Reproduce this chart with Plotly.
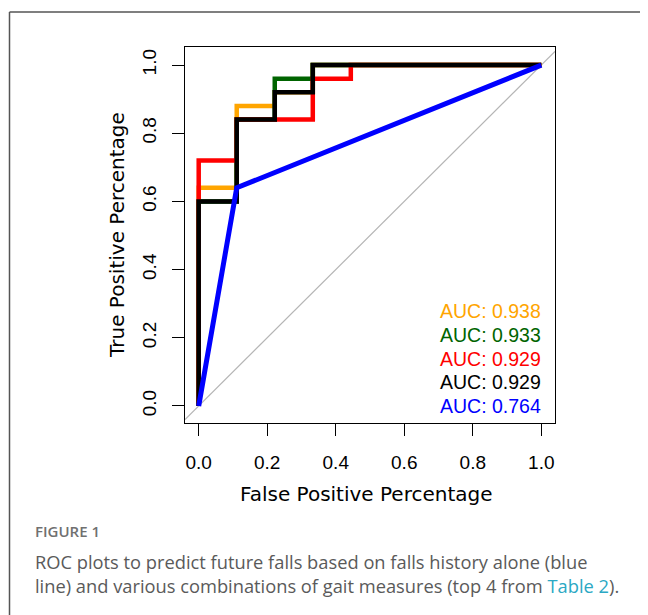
import plotly.graph_objects as go

# ROC data (false positive rate, true positive rate)
fpr_orange = [0, 0, 0.111, 0.111, 0.222, 0.222, 0.333, 0.333, 1]
tpr_orange = [0, 0.64, 0.64, 0.88, 0.88, 0.92, 0.92, 1, 1]
fpr_green = [0, 0, 0.111, 0.111, 0.222, 0.222, 0.333, 0.333, 1]
tpr_green = [0, 0.60, 0.60, 0.84, 0.84, 0.96, 0.96, 1, 1]
fpr_red = [0, 0, 0.111, 0.111, 0.333, 0.333, 0.444, 0.444, 1]
tpr_red = [0, 0.72, 0.72, 0.84, 0.84, 0.96, 0.96, 1, 1]
fpr_black = [0, 0, 0.111, 0.111, 0.222, 0.222, 0.333, 0.333, 1]
tpr_black = [0, 0.60, 0.60, 0.84, 0.84, 0.92, 0.92, 1, 1]
fpr_blue = [0, 0.111, 1]
tpr_blue = [0, 0.64, 1]

auc_labels = ["AUC: 0.938", "AUC: 0.933", "AUC: 0.929", "AUC: 0.929", "AUC: 0.764"]
colors = ["#FFA500", "#006400", "#FF0000", "#000000", "#0000FF"]
tick_vals = [0.0, 0.2, 0.4, 0.6, 0.8, 1.0]

# page body has an 8px margin; work in window pixel coordinates
OFF = 8
W, H = 648 - OFF, 615 - OFF
def px(x):
    return (x - OFF) / W
def py(y):
    return 1 - (y - OFF) / H

fig = go.Figure()

series = [
    (fpr_orange, tpr_orange, colors[0], 4.5),
    (fpr_green, tpr_green, colors[1], 4.5),
    (fpr_red, tpr_red, colors[2], 4.5),
    (fpr_black, tpr_black, colors[3], 4.5),
    (fpr_blue, tpr_blue, colors[4], 5),
]
for xs, ys, c, w in series:
    fig.add_trace(go.Scatter(x=xs, y=ys, mode="lines",
                             line=dict(color=c, width=w), showlegend=False,
                             hoverinfo="skip"))

# diagonal reference line (abline 0,1) across the plotting region
fig.add_shape(type="line", xref="x", yref="y", x0=-0.04, y0=-0.04, x1=1.04, y1=1.04,
              line=dict(color="#B5B5B5", width=1.2), layer="below")

xr = [-0.04, 1.04]
yr = [-0.05, 1.053]

fig.update_xaxes(domain=[px(185), px(555)], range=xr, showline=True, mirror=True,
                 linecolor="black", linewidth=1, ticks="outside", ticklen=12,
                 tickcolor="black", tickwidth=1, tickvals=tick_vals, tickformat=".1f",
                 showgrid=False, zeroline=False, ticklabelstandoff=10,
                 tickfont=dict(family="Liberation Sans, Arial", size=19, color="black"))
fig.update_yaxes(domain=[py(423), py(47)], range=yr, showline=True, mirror=True,
                 linecolor="black", linewidth=1, ticks="outside", ticklen=12,
                 tickcolor="black", tickwidth=1, tickvals=tick_vals, tickformat=".1f",
                 showgrid=False, zeroline=False, tickangle=-90, ticklabelstandoff=8,
                 tickfont=dict(family="Liberation Sans, Arial", size=19, color="black"))

# AUC legend text (bottom right)
step = 0.0695
for i, (lab, c) in enumerate(zip(auc_labels, colors)):
    fig.add_annotation(x=1.005, y=(4 - i) * step, xref="x", yref="y", text=lab,
                       showarrow=False, xanchor="right", yanchor="middle",
                       font=dict(family="Liberation Sans, Arial", size=19.5, color=c))

# axis titles
fig.add_annotation(x=px(366), y=py(494), xref="paper", yref="paper",
                   text="False Positive Percentage", showarrow=False,
                   xanchor="center", yanchor="middle",
                   font=dict(family="DejaVu Sans", size=20, color="black"))
fig.add_annotation(x=px(117), y=py(235), xref="paper", yref="paper",
                   text="True Positive Percentage", showarrow=False, textangle=-90,
                   xanchor="center", yanchor="middle",
                   font=dict(family="DejaVu Sans", size=20, color="black"))

# caption
fig.add_annotation(x=px(33), y=py(531), xref="paper", yref="paper",
                   text="FIGURE 1", showarrow=False, xanchor="left", yanchor="middle",
                   font=dict(family="Open Sans", size=15, color="#707070", weight=600))
fig.add_annotation(x=px(33), y=py(561), xref="paper", yref="paper",
                   text="ROC plots to predict future falls based on falls history alone (blue",
                   showarrow=False, xanchor="left", yanchor="middle",
                   font=dict(family="Open Sans", size=18.3, color="#5A5A5A"))
fig.add_annotation(x=px(33), y=py(585), xref="paper", yref="paper",
                   text="line) and various combinations of gait measures (top 4 from "
                        "<span style='color:#2BA8C4'>Table 2</span>).",
                   showarrow=False, xanchor="left", yanchor="middle",
                   font=dict(family="Open Sans", size=18.3, color="#5A5A5A"))

# outer frame (top and left edges)
fig.add_shape(type="line", xref="paper", yref="paper", x0=px(9.5), y0=py(12), x1=1.0, y1=py(12),
              line=dict(color="#555555", width=1.5))
fig.add_shape(type="line", xref="paper", yref="paper", x0=px(9.5), y0=py(12), x1=px(9.5), y1=0,
              line=dict(color="#555555", width=1.5))

fig.update_layout(width=W, height=H, margin=dict(l=0, r=0, t=0, b=0),
                  plot_bgcolor="white", paper_bgcolor="white")

fig.write_html("out.html")
